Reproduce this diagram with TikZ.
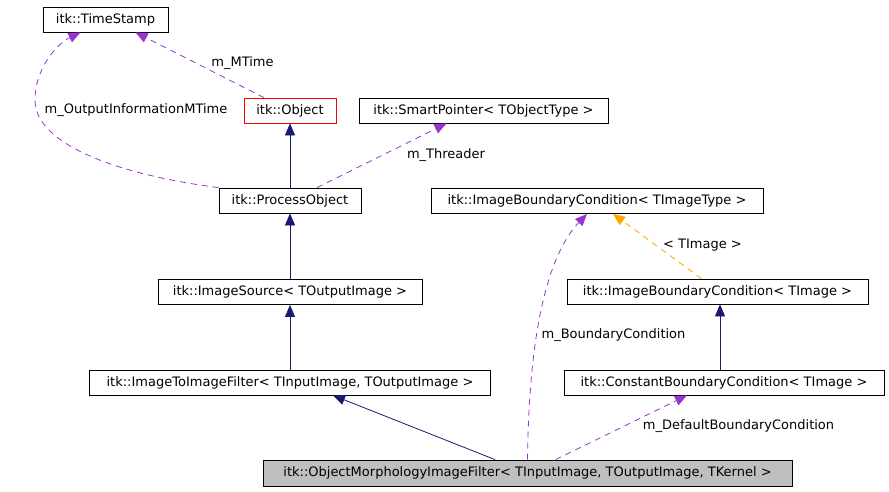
\documentclass[tikz,border=0pt]{standalone}
\usepackage{fontspec}
\setmainfont{DejaVu Sans}
\usetikzlibrary{arrows.meta}
\definecolor{inhblue}{HTML}{191970}
\definecolor{usepurple}{HTML}{9A32CD}
\definecolor{tmplorange}{HTML}{FFA500}

\begin{document}
\begin{tikzpicture}[x=1pt,y=-1pt,font=\fontsize{13}{15}\selectfont,line width=0.8pt,
  cls/.style={draw,inner sep=0pt,minimum height=25pt},
  inh/.style={draw=inhblue,-{Triangle[length=12pt,width=10pt]}},
  use/.style={draw=usepurple,dash pattern=on 6pt off 5pt,-{Triangle[length=12pt,width=10pt]}},
  tpl/.style={draw=tmplorange,dash pattern=on 6pt off 5pt,-{Triangle[length=12pt,width=10pt]}},
  lbl/.style={inner sep=0pt}]
  \useasboundingbox (0,0) rectangle (889,491);
  % classes
  \node[cls,minimum width=125pt] (ts) at (105.5,19.5) {itk::TimeStamp};
  \node[cls,draw=red,minimum width=92pt] (obj) at (290,110.5) {itk::Object};
  \node[cls,minimum width=249pt] (sp) at (483.5,110.5) {itk::SmartPointer< TObjectType >};
  \node[cls,minimum width=142pt] (po) at (290,200.5) {itk::ProcessObject};
  \node[cls,minimum width=332pt] (ibc) at (597,201) {itk::ImageBoundaryCondition< TImageType >};
  \node[cls,minimum width=264pt] (isrc) at (290,292) {itk::ImageSource< TOutputImage >};
  \node[cls,minimum width=301pt] (ibct) at (717.5,291.5) {itk::ImageBoundaryCondition< TImage >};
  \node[cls,minimum width=401pt] (iif) at (290,382.5) {itk::ImageToImageFilter< TInputImage, TOutputImage >};
  \node[cls,minimum width=320pt] (cbc) at (724,382.5) {itk::ConstantBoundaryCondition< TImage >};
  \node[cls,fill=black!25,minimum width=529pt,minimum height=26pt] (omf) at (527.5,473) {itk::ObjectMorphologyImageFilter< TInputImage, TOutputImage, TKernel >};
  % inheritance
  \draw[inh] (po) -- (obj);
  \draw[inh] (isrc) -- (po);
  \draw[inh] (iif) -- (isrc);
  \draw[inh] ([xshift=-32.5pt]omf.north) -- ([xshift=43pt]iif.south);
  \draw[inh] ([xshift=-4pt]cbc.north) -- ([xshift=2.5pt]ibct.south);
  \draw[tpl] ([xshift=-16pt]ibct.north) -- ([xshift=16pt]ibc.south);
  % members
  \draw[use] ([xshift=-26pt]obj.north) -- ([xshift=30pt]ts.south);
  \draw[use] (po.north west) .. controls (120,175) and (35,145) .. (35,100)
    .. controls (35,70) and (55,45) .. ([xshift=-25pt]ts.south);
  \draw[use] ([xshift=27pt]po.north) -- ([xshift=-37pt]sp.south);
  \draw[use] (omf.north) .. controls (529,330) and (548,255) .. ([xshift=-10pt]ibc.south);
  \draw[use] ([xshift=28pt]omf.north) -- ([xshift=-37pt]cbc.south);
  % labels
  \node[lbl] (lmt) at (242.5,63) {m\_MTime};
  \node[lbl] (loim) at (136,110) {m\_OutputInformationMTime};
  \node[lbl] (lthr) at (446,155) {m\_Threader};
  \node[lbl] (ltim) at (702.5,245) {< TImage >};
  \node[lbl] (lbc) at (613.5,335) {m\_BoundaryCondition};
  \node[lbl] (ldbc) at (738.5,426) {m\_DefaultBoundaryCondition};
\end{tikzpicture}
\end{document}
